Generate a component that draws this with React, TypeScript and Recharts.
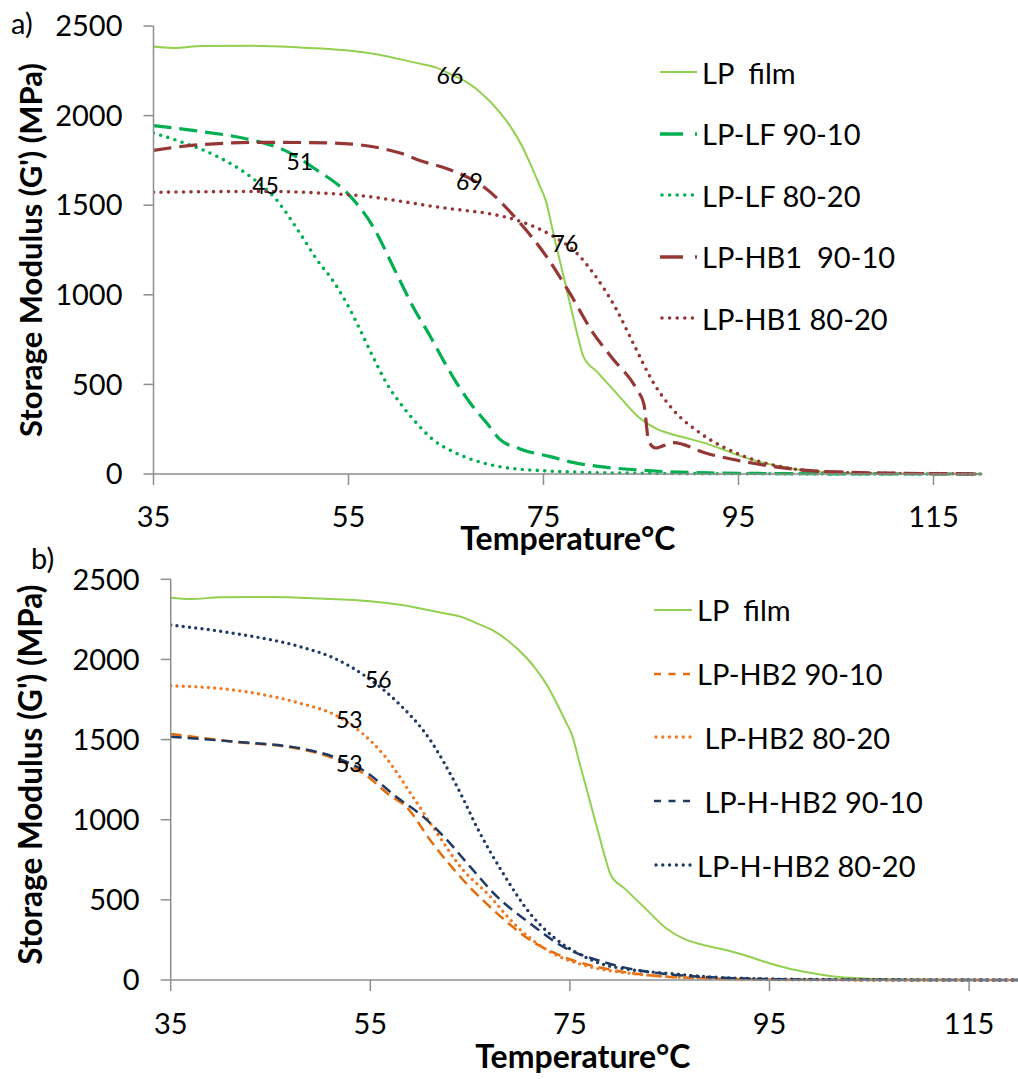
import React from 'react';
import { LineChart, Line, XAxis, YAxis, Legend, ReferenceDot, Label } from 'recharts';

const FONT = 'Lato, "Open Sans", sans-serif';
const AXIS = '#8E8E8E';

const xTicks = [35, 55, 75, 95, 115];
const yTicks = [0, 500, 1000, 1500, 2000, 2500];

// LP film, same curve in both panels
const lpFilmT = [35, 37, 40, 45, 50, 55, 58, 60, 62.3, 64, 65.7, 67.2, 68.8, 70.5, 71.6, 72.8, 73.6, 74.6, 75.2, 76, 77, 78, 78.6, 79.1, 80.5, 82.5, 84.7, 86.5, 88, 89.7, 91.4, 93, 95, 97, 99.5, 102, 105, 110, 115, 120];
const lpFilmG = [2385, 2377, 2388, 2390, 2380, 2363, 2341, 2318, 2290, 2268, 2225, 2184, 2117, 2020, 1940, 1830, 1736, 1610, 1531, 1346, 1116, 886, 749, 655, 570, 450, 320, 255, 225, 200, 175, 145, 104, 70, 40, 18, 8, 3, 1, 0];

// panel a
const lf9010T = [35, 39.8, 44.9, 48.3, 51.7, 55.2, 57.5, 59.9, 61.6, 63.4, 64.7, 66.1, 67.5, 69.2, 70.5, 72.6, 75.7, 78, 80.8, 84, 88, 92, 97, 105, 120];
const lf9010G = [1944, 1912, 1866, 1810, 1698, 1549, 1382, 1121, 935, 767, 637, 507, 395, 283, 195, 140, 97, 65, 41, 25, 12, 6, 3, 1, 0];

const lf8020T = [35, 38.1, 41.5, 44.9, 47.6, 50, 52.1, 53.1, 54.8, 56.2, 57.5, 58.9, 60.3, 62, 63.7, 65.7, 67.8, 70.5, 75, 80, 85, 90, 100, 120];
const lf8020G = [1903, 1848, 1773, 1661, 1531, 1345, 1170, 1102, 954, 804, 655, 507, 395, 283, 190, 125, 78, 41, 18, 8, 4, 2, 1, 0];

const hb19010T = [35, 39.8, 46.6, 53.4, 60.3, 62.3, 65.4, 68.8, 72.3, 75.3, 77.7, 80.1, 82, 84.6, 85.3, 85.8, 86.5, 88.3, 91.7, 96.5, 101.6, 106, 112, 120];
const hb19010G = [1806, 1838, 1851, 1847, 1791, 1750, 1698, 1605, 1419, 1214, 1009, 786, 650, 469, 390, 180, 145, 175, 116, 60, 22, 10, 4, 1];

const hb18020T = [35, 40, 46.6, 52, 56.9, 60, 63.7, 67, 69.2, 72.6, 76, 78.4, 80.1, 82.5, 84.2, 86.3, 88.3, 91.1, 94.8, 99.3, 103, 108, 115, 120];
const hb18020G = [1572, 1575, 1577, 1568, 1549, 1525, 1493, 1470, 1455, 1410, 1326, 1233, 1121, 916, 730, 507, 358, 227, 116, 41, 15, 5, 2, 0];

// panel b
const hb29010T = [35, 41.3, 48, 51.3, 54.5, 57, 58.6, 61, 64.3, 67.7, 71, 74.3, 79.3, 82.7, 88, 95, 100, 120];
const hb29010G = [1535, 1487, 1440, 1385, 1280, 1150, 1081, 873, 624, 416, 250, 146, 62, 31, 12, 3, 1, 0];

const hb28020T = [35, 41.3, 48, 51.5, 54.2, 56.5, 59.4, 61.7, 64.3, 66.7, 69.7, 72.7, 77, 81, 85, 90, 95, 100, 120];
const hb28020G = [1836, 1809, 1726, 1653, 1539, 1393, 1130, 915, 686, 541, 333, 187, 83, 42, 20, 8, 3, 1, 0];

const hhb29010T = [35, 41.3, 48, 51.3, 54.5, 57.6, 60.3, 62.7, 65, 67.7, 71, 74.3, 77.7, 81.7, 85, 90, 95, 100, 120];
const hhb29010G = [1518, 1487, 1445, 1393, 1300, 1143, 1019, 873, 707, 520, 354, 208, 125, 62, 35, 15, 6, 2, 0];

const hhb28020T = [35, 41.3, 48, 51.3, 54.6, 57.6, 61, 63.7, 66, 68.3, 71, 73.5, 76, 78, 81, 84.7, 91.4, 100, 120];
const hhb28020G = [2215, 2163, 2079, 2010, 1892, 1740, 1497, 1206, 915, 666, 416, 260, 160, 104, 65, 42, 12, 3, 0];

// onset temperatures written on the curves
const notesA = [
  { t: 65.4, g: 2223, text: '66' },
  { t: 50.0, g: 1743, text: '51' },
  { t: 46.5, g: 1609, text: '45' },
  { t: 67.4, g: 1631, text: '69' },
  { t: 77.2, g: 1285, text: '76' },
];
const notesB = [
  { t: 55.8, g: 1871, text: '56' },
  { t: 52.9, g: 1622, text: '53' },
  { t: 52.9, g: 1347, text: '53' },
];

const zip = (t: number[], g: number[]) => t.map((v, i) => ({ t: v, g: g[i] }));

interface Series {
  name: string;
  label: string;
  data: { t: number; g: number }[];
  color: string;
  width: number;
  dash?: string;
  cap?: 'round' | 'butt';
  legendDash?: string;
  legendWidth?: number;
}

const seriesA: Series[] = [
  { name: 'film', label: 'LP  film', data: zip(lpFilmT, lpFilmG), color: '#92D050', width: 2 },
  { name: 'lf9010', label: 'LP-LF 90-10', data: zip(lf9010T, lf9010G), color: '#00B050', width: 3.2, dash: '18 8', legendDash: '23 12', legendWidth: 3.5 },
  { name: 'lf8020', label: 'LP-LF 80-20', data: zip(lf8020T, lf8020G), color: '#00B050', width: 3.6, dash: '0 7.5', cap: 'round', legendDash: '0 7.6' },
  { name: 'hb19010', label: 'LP-HB1  90-10', data: zip(hb19010T, hb19010G), color: '#953735', width: 3.2, dash: '18 8', legendDash: '23 12', legendWidth: 3.5 },
  { name: 'hb18020', label: 'LP-HB1 80-20', data: zip(hb18020T, hb18020G), color: '#953735', width: 3.6, dash: '0 7.5', cap: 'round', legendDash: '0 7.6' },
];

const seriesB: Series[] = [
  { name: 'film', label: 'LP  film', data: zip(lpFilmT, lpFilmG), color: '#92D050', width: 2 },
  { name: 'hb29010', label: 'LP-HB2 90-10', data: zip(hb29010T, hb29010G), color: '#E46C0A', width: 2.5, dash: '11 6', legendDash: '7 7.5' },
  { name: 'hb28020', label: ' LP-HB2 80-20', data: zip(hb28020T, hb28020G), color: '#F07A24', width: 3.4, dash: '0 6.3', cap: 'round', legendDash: '0 6.8' },
  { name: 'hhb29010', label: ' LP-H-HB2 90-10', data: zip(hhb29010T, hhb29010G), color: '#1F3A64', width: 2.5, dash: '11 6', legendDash: '7 7.5' },
  { name: 'hhb28020', label: 'LP-H-HB2 80-20', data: zip(hhb28020T, hhb28020G), color: '#1F3A64', width: 3.4, dash: '0 6.3', cap: 'round', legendDash: '0 6.8' },
];

const LegendBox = ({ items, rowH, markerW, gap }: { items: Series[]; rowH: number; markerW: number; gap: number }) => (
  <div style={{ fontFamily: FONT, fontSize: 29, color: '#000', whiteSpace: 'nowrap' }}>
    {items.map((s) => (
      <div key={s.name} style={{ display: 'flex', alignItems: 'center', height: rowH }}>
        <svg width={markerW} height={12} style={{ display: 'block' }}>
          <line
            x1={s.cap === 'round' ? 2 : 0}
            y1={6}
            x2={markerW}
            y2={6}
            stroke={s.color}
            strokeWidth={s.legendWidth ?? s.width}
            strokeDasharray={s.legendDash}
            strokeLinecap={s.cap ?? 'butt'}
          />
        </svg>
        <span style={{ marginLeft: gap, whiteSpace: 'pre', lineHeight: 1 }}>{s.label}</span>
      </div>
    ))}
  </div>
);

const yTitle = (shift: number, size: number) => (props: any) => {
  const { x, y, height } = props.viewBox;
  const cx = x + 30;
  const cy = y + height / 2 + shift;
  return (
    <text x={cx} y={cy} transform={`rotate(-90 ${cx} ${cy})`} textAnchor="middle" dominantBaseline="central"
      fontFamily={FONT} fontWeight="bold" fontSize={size} fill="#000">
      Storage Modulus (G') (MPa)
    </text>
  );
};

const xTitle = (dx: number, dy: number) => (props: any) => {
  const { x, y, width } = props.viewBox;
  return (
    <text x={x + width / 2 + dx} y={y + dy} textAnchor="middle" fontFamily={FONT} fontWeight="bold" fontSize={32} fill="#000">
      Temperature°C
    </text>
  );
};

interface PanelProps {
  series: Series[];
  notes: { t: number; g: number; text: string }[];
  width: number;
  height: number;
  marginTop: number;
  marginRight: number;
  yAxisWidth: number;
  xAxisHeight: number;
  tickMarginX: number;
  legendLeft: number;
  legendTop: number;
  legendRow: number;
  markerW: number;
  yShift: number;
  yTitleSize: number;
  xTitleDx: number;
  xTitleDy: number;
}

const Panel = (p: PanelProps) => (
  <LineChart width={p.width} height={p.height} margin={{ top: p.marginTop, right: p.marginRight, bottom: 0, left: 0 }}>
    <XAxis
      type="number"
      dataKey="t"
      domain={[35, 120]}
      allowDataOverflow
      ticks={xTicks}
      height={p.xAxisHeight}
      axisLine={{ stroke: AXIS, strokeWidth: 1.5 }}
      tickLine={{ stroke: AXIS, strokeWidth: 1.5 }}
      tickSize={11}
      tickMargin={p.tickMarginX}
      tick={{ fontSize: 29, fill: '#000', fontFamily: FONT }}
    >
      <Label content={xTitle(p.xTitleDx, p.xTitleDy)} />
    </XAxis>
    <YAxis
      type="number"
      domain={[0, 2500]}
      ticks={yTicks}
      width={p.yAxisWidth}
      axisLine={{ stroke: AXIS, strokeWidth: 1.5 }}
      tickLine={{ stroke: AXIS, strokeWidth: 1.5 }}
      tickSize={10}
      tickMargin={21}
      tick={{ fontSize: 29, fill: '#000', fontFamily: FONT }}
    >
      <Label content={yTitle(p.yShift, p.yTitleSize)} />
    </YAxis>
    <Legend
      layout="vertical"
      align="center"
      verticalAlign="middle"
      wrapperStyle={{ left: p.legendLeft, top: p.legendTop, width: 'auto' }}
      content={() => <LegendBox items={p.series} rowH={p.legendRow} markerW={p.markerW} gap={5} />}
    />
    {p.series.map((s) => (
      <Line
        key={s.name}
        data={s.data}
        dataKey="g"
        name={s.label}
        type="monotone"
        stroke={s.color}
        strokeWidth={s.width}
        strokeDasharray={s.dash}
        strokeLinecap={s.cap ?? 'butt'}
        dot={false}
        activeDot={false}
        isAnimationActive={false}
      />
    ))}
    {p.notes.map((n, i) => (
      <ReferenceDot
        key={i}
        x={n.t}
        y={n.g}
        r={0}
        fill="none"
        stroke="none"
        ifOverflow="visible"
        label={{ value: n.text, position: 'center', fontSize: 23, fontFamily: FONT, fill: '#000' }}
      />
    ))}
  </LineChart>
);

export default function App() {
  return (
    <div style={{ position: 'absolute', left: 0, top: 0, width: 1018, height: 1079, overflow: 'hidden', background: '#fff' }}>
      <div style={{ position: 'absolute', left: 0, top: 0 }}>
        <Panel
          series={seriesA}
          notes={notesA}
          width={1018}
          height={560}
          marginTop={26}
          marginRight={35.75}
          yAxisWidth={153.5}
          xAxisHeight={86}
          tickMarginX={21}
          legendLeft={660}
          legendTop={41.25}
          legendRow={61.5}
          markerW={37}
          yShift={0}
          yTitleSize={31}
          xTitleDx={0}
          xTitleDy={76}
        />
      </div>
      <div style={{ position: 'absolute', left: 0, top: 530 }}>
        <Panel
          series={seriesB}
          notes={notesB}
          width={1019}
          height={549}
          marginTop={49.3}
          marginRight={0}
          yAxisWidth={170.7}
          xAxisHeight={99}
          tickMarginX={22}
          legendLeft={654}
          legendTop={48}
          legendRow={63.8}
          markerW={38}
          yShift={-5}
          yTitleSize={31.5}
          xTitleDx={-12}
          xTitleDy={88}
        />
      </div>
      <div style={{ position: 'absolute', left: 11, top: 7, fontFamily: FONT, fontSize: 29, lineHeight: '32px' }}>a)</div>
      <div style={{ position: 'absolute', left: 31, top: 542, fontFamily: FONT, fontSize: 29, lineHeight: '32px' }}>b)</div>
    </div>
  );
}
